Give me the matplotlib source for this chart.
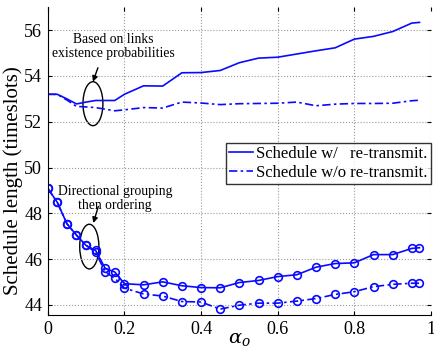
import numpy as np
import matplotlib.pyplot as plt
from matplotlib.patches import Ellipse

plt.rcParams['font.family'] = ['Liberation Serif', 'DejaVu Serif']
plt.rcParams['mathtext.fontset'] = 'dejavuserif'

# alpha_o values
alpha = [0, 0.025, 0.05, 0.075, 0.1, 0.125, 0.15, 0.175, 0.2, 0.25, 0.3, 0.35,
         0.4, 0.45, 0.5, 0.55, 0.6, 0.65, 0.7, 0.75, 0.8, 0.85, 0.9, 0.95, 0.97]

# based on links existence probabilities
prob_w = [53.2, 53.2, 53.0, 52.78, 52.86, 52.93, 52.93, 52.93, 53.2, 53.57, 53.56, 54.14,
          54.15, 54.24, 54.58, 54.78, 54.82, 54.96, 55.1, 55.23, 55.61, 55.73, 55.94, 56.31, 56.34]
prob_wo = [53.2, 53.2, 52.95, 52.67, 52.65, 52.62, 52.55, 52.48, 52.52, 52.62, 52.6, 52.86,
           52.82, 52.75, 52.79, 52.8, 52.81, 52.86, 52.7, 52.77, 52.8, 52.8, 52.81, 52.92, 52.94]

# directional grouping then ordering
dir_w = [49.1, 48.48, 47.55, 47.05, 46.6, 46.38, 45.6, 45.44, 44.93, 44.88, 45.01, 44.84,
         44.76, 44.75, 44.98, 45.07, 45.24, 45.32, 45.65, 45.81, 45.84, 46.2, 46.2, 46.47, 46.5]
dir_wo = [49.1, 48.48, 47.55, 47.05, 46.6, 46.3, 45.44, 45.17, 44.74, 44.48, 44.39, 44.15,
          44.13, 43.82, 43.99, 44.08, 44.08, 44.17, 44.28, 44.46, 44.58, 44.8, 44.9, 44.95, 44.95]

xticks = [0, 0.2, 0.4, 0.6, 0.8, 1]
xticklabels = ['0', '0.2', '0.4', '0.6', '0.8', '1']
yticks = [44, 46, 48, 50, 52, 54, 56]

blue = '#0a0aff'
dd = (0, (5, 2, 1.5, 2))

fig = plt.figure(figsize=(4.35, 3.47), dpi=100)
ax = fig.add_axes([0.1097, 0.0914, 0.8811, 0.8876])

ax.plot(alpha, prob_w, '-', color=blue, lw=1.2, label='Schedule w/   re-transmit.')
ax.plot(alpha, prob_wo, linestyle=dd, color=blue, lw=1.2, label='Schedule w/o re-transmit.')
ax.plot(alpha, dir_w, '-', color=blue, lw=1.2, marker='o', ms=5.5, mfc='none', mew=1.2)
ax.plot(alpha, dir_wo, linestyle=dd, color=blue, lw=1.2, marker='o', ms=5.5, mfc='none', mew=1.2)

ax.set_xlim(0, 1)
ax.set_ylim(43.55, 57)
ax.set_xticks(xticks)
ax.set_xticklabels(xticklabels)
ax.set_yticks(yticks)
ax.tick_params(labelsize=13, direction='in', length=3, top=True, right=True, pad=4)
ax.grid(True, linestyle=':', color='#999999', lw=0.8)
for s in ['top', 'right']:
    ax.spines[s].set_visible(False)

ax.set_ylabel('Schedule length (timeslots)', fontsize=15)
ax.yaxis.set_label_coords(-0.064, 0.436)
ax.set_xlabel(r'$\alpha_o$', fontsize=14, labelpad=-5)

leg = ax.legend(loc='upper right', bbox_to_anchor=(1.0, 0.56), fontsize=12,
                frameon=True, fancybox=False, handlelength=1.4, handletextpad=0.2,
                borderpad=0.2, labelspacing=0.15, borderaxespad=0)
leg.get_frame().set_edgecolor('black')
leg.get_frame().set_linewidth(1.0)

# annotations
arrow = dict(arrowstyle='-|>', color='black', lw=1.0, mutation_scale=8, shrinkA=0, shrinkB=0)
ax.add_patch(Ellipse((0.118, 52.79), 0.052, 1.92, fill=False, color='black', lw=1.0))
ax.text(0.17, 55.28, 'Based on links\nexistence probabilities', ha='center', va='center',
        fontsize=9.8, linespacing=1.05)
ax.annotate('', xy=(0.118, 53.75), xytext=(0.131, 54.36), arrowprops=arrow)
ax.add_patch(Ellipse((0.1085, 46.55), 0.05, 1.95, fill=False, color='black', lw=1.0))
ax.text(0.175, 48.65, 'Directional grouping\nthen ordering', ha='center', va='center',
        fontsize=9.8, linespacing=1.05)
ax.annotate('', xy=(0.119, 47.58), xytext=(0.132, 48.3), arrowprops=arrow)

fig.savefig('out.png', dpi=100)
